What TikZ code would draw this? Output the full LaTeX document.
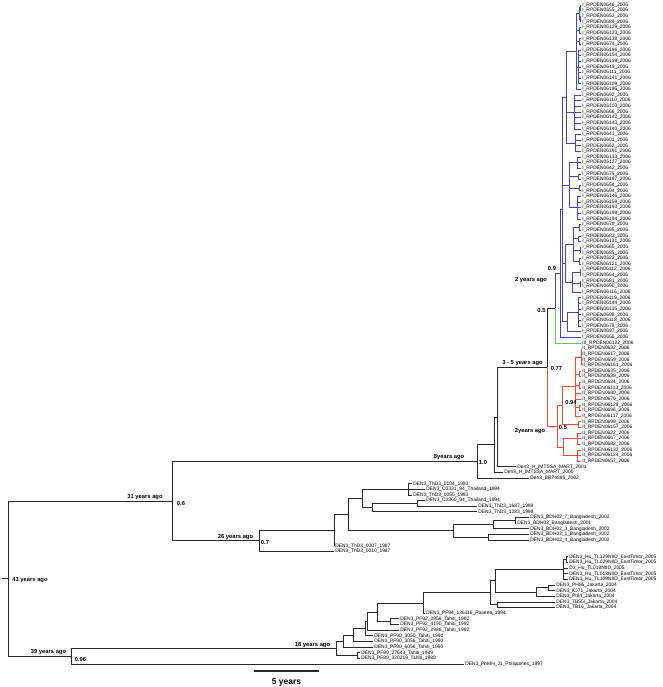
\documentclass[tikz,border=0pt]{standalone}
\usepackage{fontspec}
\setmainfont{Liberation Sans}
\usetikzlibrary{calc}
\definecolor{tg}{RGB}{40,40,40}
\definecolor{tb}{RGB}{70,70,175}
\definecolor{tr}{RGB}{232,75,55}
\definecolor{tgn}{RGB}{110,190,100}
\newcommand\rp[2]{#1\_RPDEN#2\_2006}
\newcommand\lf[3]{%
  \coordinate (L#1) at ({581-13*(2006-#2)}, {5+5.6325*(#1-1)});
  \node[lab] (T#1) at (L#1) {#3};}
\newcommand\mkn[4]{%
  \path ($(#3)!0.5!(#4)$) coordinate (tmpm) (#2,0) coordinate (tmpx);
  \coordinate (#1) at (tmpx |- tmpm);}
\newcommand\kids[3]{\foreach \ch in {#3}{\draw[#2] (#1) |- (\ch);}}
\newcommand\nd[6]{\mkn{#1}{#2}{#3}{#4}\kids{#1}{#5}{#6}}
\begin{document}
\begin{tikzpicture}[x=1pt,y=-1pt,
  br/.style={draw=tg, line width=1pt},
  bl/.style={draw=tb, line width=0.8pt},
  rd/.style={draw=tr, line width=0.8pt},
  gr/.style={draw=tgn, line width=0.8pt},
  lab/.style={anchor=west, inner sep=1.2pt, font=\fontsize{4.9}{5}\selectfont},
  age/.style={inner sep=0pt, font=\bfseries\fontsize{5.8}{6}\selectfont}]
\useasboundingbox (0,0) rectangle (662,687);
% ---- leaves
\lf{1}{2006}{\rp{I}{0646}}
\lf{2}{2006}{\rp{I}{0655}}
\lf{3}{2006}{\rp{I}{0652}}
\lf{4}{2006}{\rp{I}{0689}}
\lf{5}{2006}{\rp{I}{06129}}
\lf{6}{2006}{\rp{I}{06123}}
\lf{7}{2006}{\rp{I}{06138}}
\lf{8}{2006}{\rp{I}{0674}}
\lf{9}{2006}{\rp{I}{06196}}
\lf{10}{2006}{\rp{I}{06104}}
\lf{11}{2006}{\rp{I}{06139}}
\lf{12}{2006}{\rp{I}{0649}}
\lf{13}{2006}{\rp{I}{06111}}
\lf{14}{2006}{\rp{I}{06141}}
\lf{15}{2006}{\rp{I}{06109}}
\lf{16}{2006}{\rp{I}{06195}}
\lf{17}{2006}{\rp{I}{0692}}
\lf{18}{2006}{\rp{I}{06110}}
\lf{19}{2006}{\rp{I}{06103}}
\lf{20}{2006}{\rp{I}{0666}}
\lf{21}{2006}{\rp{I}{06142}}
\lf{22}{2006}{\rp{I}{06143}}
\lf{23}{2006}{\rp{I}{06140}}
\lf{24}{2006}{\rp{I}{0641}}
\lf{25}{2006}{\rp{I}{0601}}
\lf{26}{2006}{\rp{I}{0662}}
\lf{27}{2006}{\rp{I}{06191}}
\lf{28}{2006}{\rp{I}{06133}}
\lf{29}{2006}{\rp{I}{06127}}
\lf{30}{2006}{\rp{I}{0642}}
\lf{31}{2006}{\rp{I}{0675}}
\lf{32}{2006}{\rp{I}{06197}}
\lf{33}{2006}{\rp{I}{0654}}
\lf{34}{2006}{\rp{I}{0694}}
\lf{35}{2006}{\rp{I}{06146}}
\lf{36}{2006}{\rp{I}{06159}}
\lf{37}{2006}{\rp{I}{06193}}
\lf{38}{2006}{\rp{I}{06198}}
\lf{39}{2006}{\rp{I}{06194}}
\lf{40}{2006}{\rp{I}{0679}}
\lf{41}{2006}{\rp{I}{0695}}
\lf{42}{2006}{\rp{I}{0683}}
\lf{43}{2006}{\rp{I}{06131}}
\lf{44}{2006}{\rp{I}{0665}}
\lf{45}{2006}{\rp{I}{0685}}
\lf{46}{2006}{\rp{I}{0623}}
\lf{47}{2006}{\rp{I}{06121}}
\lf{48}{2006}{\rp{I}{06112}}
\lf{49}{2006}{\rp{I}{0664}}
\lf{50}{2006}{\rp{I}{0681}}
\lf{51}{2006}{\rp{I}{0690}}
\lf{52}{2006}{\rp{I}{06116}}
\lf{53}{2006}{\rp{I}{06119}}
\lf{54}{2006}{\rp{I}{06144}}
\lf{55}{2006}{\rp{I}{06135}}
\lf{56}{2006}{\rp{I}{0698}}
\lf{57}{2006}{\rp{I}{06118}}
\lf{58}{2006}{\rp{I}{0678}}
\lf{59}{2006}{\rp{I}{0697}}
\lf{60}{2006}{\rp{I}{0656}}
\lf{61}{2006}{\rp{III}{06122}}
\lf{62}{2006}{\rp{II}{0632}}
\lf{63}{2006}{\rp{II}{0617}}
\lf{64}{2006}{\rp{II}{0659}}
\lf{65}{2006}{\rp{II}{06161}}
\lf{66}{2006}{\rp{II}{0635}}
\lf{67}{2006}{\rp{II}{0639}}
\lf{68}{2006}{\rp{II}{0634}}
\lf{69}{2006}{\rp{II}{06113}}
\lf{70}{2006}{\rp{II}{0680}}
\lf{71}{2006}{\rp{II}{0670}}
\lf{72}{2006}{\rp{II}{06128}}
\lf{73}{2006}{\rp{II}{0696}}
\lf{74}{2006}{\rp{II}{06117}}
\lf{75}{2006}{\rp{II}{0699}}
\lf{76}{2006}{\rp{II}{06157}}
\lf{77}{2006}{\rp{II}{0622}}
\lf{78}{2006}{\rp{II}{0667}}
\lf{79}{2006}{\rp{II}{0682}}
\lf{80}{2006}{\rp{II}{06132}}
\lf{81}{2006}{\rp{II}{06124}}
\lf{82}{2006}{\rp{II}{0657}}
\lf{83}{2001}{Den3\_H\_IMTSSA\_MART\_2001}
\lf{84}{2000}{Den3\_H\_IMTSSA\_MART\_2000}
\lf{85}{2002}{Den3\_BR74886\_2002}
\lf{86}{1993}{DEN3\_ThD3\_0104\_1993}
\lf{87}{1994}{DEN3\_C0331\_94\_Thailand\_1994}
\lf{88}{1993}{DEN3\_ThD3\_0055\_1993}
\lf{89}{1994}{DEN3\_C0360\_94\_Thailand\_1994}
\lf{90}{1998}{DEN3\_ThD3\_1687\_1998}
\lf{91}{1998}{DEN3\_ThD3\_1283\_1998}
\lf{92}{2002}{DEN3\_BDH02\_7\_Bangladesh\_2002}
\lf{93}{2001}{DEN3\_BDH02\_Bangladesh\_2001}
\lf{94}{2002}{DEN3\_BDH02\_3\_Bangladesh\_2002}
\lf{95}{2002}{DEN3\_BDH02\_1\_Bangladesh\_2002}
\lf{96}{2002}{DEN3\_BDH02\_4\_Bangladesh\_2002}
\lf{97}{1987}{DEN3\_ThD3\_0007\_1987}
\lf{98}{1987}{DEN3\_ThD3\_0010\_1987}
\lf{99}{2005}{DEN3\_Hu\_TL129NIID\_EastTimor\_2005}
\lf{100}{2005}{DEN3\_Hu\_TL029NIID\_EastTimor\_2005}
\lf{101}{2005}{D3\_Hu\_TL018NIID\_2005}
\lf{102}{2005}{DEN3\_Hu\_TL018NIID\_EastTimor\_2005}
\lf{103}{2005}{DEN3\_Hu\_TL109NIID\_EastTimor\_2005}
\lf{104}{2004}{DEN3\_PH86\_Jakarta\_2004}
\lf{105}{2004}{DEN3\_KJ71\_Jakarta\_2004}
\lf{106}{2004}{DEN3\_PI64\_Jakarta\_2004}
\lf{107}{2004}{DEN3\_TB55i\_Jakarta\_2004}
\lf{108}{2004}{DEN3\_TB16\_Jakarta\_2004}
\lf{109}{1994}{DEN3\_PF94\_136116\_Raiatea\_1994}
\lf{110}{1992}{DEN3\_PF92\_2956\_Tahiti\_1992}
\lf{111}{1992}{DEN3\_PF92\_4190\_Tahiti\_1992}
\lf{112}{1992}{DEN3\_PF92\_2986\_Tahiti\_1992}
\lf{113}{1990}{DEN3\_PF90\_3050\_Tahiti\_1990}
\lf{114}{1990}{DEN3\_PF90\_3056\_Tahiti\_1990}
\lf{115}{1990}{DEN3\_PF90\_6056\_Tahiti\_1990}
\lf{116}{1989}{DEN3\_PF89\_27643\_Tahiti\_1989}
\lf{117}{1989}{DEN3\_PF89\_320219\_Tahiti\_1989}
\lf{118}{1997}{DEN3\_PhMH\_J1\_Philippines\_1997}
% ---- blue clade
\nd{b1a}{580}{L1}{L2}{bl}{L1,L2}
\nd{b1b}{580}{L3}{L4}{bl}{L3,L4}
\nd{b14}{579}{b1a}{b1b}{bl}{b1a,b1b}
\nd{b56}{579}{L5}{L6}{bl}{L5,L6}
\nd{b78}{579}{L7}{L8}{bl}{L7,L8}
\nd{b915}{578}{L9}{L15}{bl}{L9,L10,L11,L12,L13,L14,L15}
\nd{bA1}{576}{b14}{L16}{bl}{b14,b56,b78,b915,L16}
\nd{bA2}{574}{L17}{L23}{bl}{L17,L18,L19,L20,L21,L22,L23}
\nd{bA3}{575}{L24}{L27}{bl}{L24,L25,L26,L27}
\nd{bA}{566}{bA1}{bA3}{bl}{bA1,bA2,bA3}
\nd{bB1}{577}{L28}{L30}{bl}{L28,L29,L30}
\nd{bB2}{578}{L31}{L32}{bl}{L31,L32}
\nd{bB3}{579}{L33}{L34}{bl}{L33,L34}
\nd{bB4}{577}{L35}{L39}{bl}{L35,L36,L37,L38,L39}
\nd{bB}{569}{bB1}{bB4}{bl}{bB1,bB2,bB3,bB4}
\nd{bC1}{579}{L40}{L41}{bl}{L40,L41}
\nd{bC2}{578}{L42}{L43}{bl}{L42,L43}
\nd{bC3}{580}{L44}{L45}{bl}{L44,L45}
\nd{bC4}{579}{L46}{L47}{bl}{L46,L47}
\nd{bC}{573}{bC1}{bC4}{bl}{bC1,bC2,bC3,bC4}
\nd{bD1}{580}{L48}{L49}{bl}{L48,L49}
\nd{bD2}{580}{L50}{L51}{bl}{L50,L51}
\nd{bD}{572}{bD1}{L52}{bl}{bD1,bD2,L52}
\nd{bCD}{565}{bC}{bD}{bl}{bC,bD}
\nd{bE1}{578}{L53}{L58}{bl}{L53,L54,L55,L56,L57,L58}
\nd{bE}{567}{bE1}{L59}{bl}{bE1,L59}
\nd{bW}{562}{bA}{bE}{bl}{bA,bB,bCD,bE}
\nd{nblue}{560}{bW}{L60}{bl}{bW,L60}
\mkn{p05}{555}{nblue}{L61}
\kids{p05}{bl}{nblue}
\kids{p05}{gr}{L61}
% ---- red clade
\nd{r14}{581}{L62}{L65}{rd}{L62,L63,L64,L65}
\nd{r56}{579}{L66}{L67}{rd}{L66,L67}
\nd{r78}{579}{L68}{L69}{rd}{L68,L69}
\nd{r23}{579}{L72}{L73}{rd}{L72,L73}
\nd{rUa}{575}{r14}{L74}{rd}{r14,r56,r78,L70,L71,r23,L74}
\nd{rUb}{578}{L75}{L76}{rd}{L75,L76}
\nd{rU}{562}{rUa}{rUb}{rd}{rUa,rUb}
\nd{rL1}{577}{L77}{L79}{rd}{L77,L78,L79}
\nd{rL2}{577}{L80}{L82}{rd}{L80,L81,L82}
\nd{rL}{563}{rL1}{rL2}{rd}{rL1,rL2}
\nd{nred}{557}{rU}{rL}{rd}{rU,rL}
% ---- upper backbone
\mkn{n077}{547}{p05}{nred}
\kids{n077}{br}{p05}
\kids{n077}{rd}{nred}
\nd{n497}{497}{n077}{L83}{br}{n077,L83}
\nd{n494}{494}{n497}{L84}{br}{n497,L84}
\nd{n8}{477}{n494}{L85}{br}{n494,L85}
% ---- Thailand / Bangladesh
\nd{tt}{408}{L86}{L88}{br}{L86,L87,L88}
\nd{tb1}{417}{L89}{L90}{br}{L89,L90}
\nd{tbot}{372}{tb1}{L91}{br}{tb1,L91}
\nd{thai}{362}{tt}{tbot}{br}{tt,tbot}
\nd{bg11}{515}{L92}{L93}{br}{L92,L93}
\nd{bg1}{493}{bg11}{L94}{br}{bg11,L94}
\nd{bg2}{488}{L95}{L96}{br}{L95,L96}
\nd{bang}{453}{bg1}{bg2}{br}{bg1,bg2}
\nd{tbn}{348}{thai}{bang}{br}{thai,bang}
\nd{n333}{334}{tbn}{L97}{br}{tbn,L97}
\nd{n26}{259}{n333}{L98}{br}{n333,L98}
\nd{n31}{172}{n8}{n26}{br}{n8,n26}
% ---- Pacific
\nd{eta}{566}{L99}{L100}{br}{L99,L100}
\nd{et}{563}{eta}{L103}{br}{eta,L101,L102,L103}
\nd{j11}{548}{L104}{L105}{br}{L104,L105}
\nd{j1}{536}{j11}{L106}{br}{j11,L106}
\nd{j2}{497}{L107}{L108}{br}{L107,L108}
\nd{ej}{495}{et}{j1}{br}{et,j1}
\nd{ejj}{490}{ej}{j2}{br}{ej,j2}
\nd{rai}{423}{ejj}{L109}{br}{ejj,L109}
\nd{p92}{390}{L110}{L111}{br}{L110,L111}
\nd{m4}{377}{rai}{p92}{br}{rai,p92}
\nd{m3b}{367}{m4}{L112}{br}{m4,L112}
\nd{m3}{365}{m3b}{L113}{br}{m3b,L113}
\nd{m2}{353}{m3}{L114}{br}{m3,L114}
\nd{m1}{343}{m2}{L115}{br}{m2,L115}
\nd{p89}{357}{L116}{L117}{br}{L116,L117}
\nd{n18}{336}{m1}{p89}{br}{m1,p89}
\nd{b39}{71}{n18}{L118}{br}{n18,L118}
\nd{root}{8}{n31}{b39}{br}{n31,b39}
\path (root) ++(-6,0) coordinate (rstub);
\draw[br] (rstub) -- (root);
% ---- node labels
\node[age] (a43) at (30,580) {43 years ago};
\node[age] (a31) at (145,497) {31 years ago};
\node[age] (s06) at (181,503) {0.6};
\node[age] (a26) at (235.5,537) {26 years ago};
\node[age] (s07) at (265,542.5) {0.7};
\node[age] (a39) at (48.5,652.5) {39 years ago};
\node[age] (s096) at (80.5,659) {0.96};
\node[age] (a18) at (312.5,645) {18 years ago};
\node[age] (a8) at (449,457) {8years ago};
\node[age] (s10) at (483,462) {1.0};
\node[age] (a35) at (522.5,363) {3 - 5 years ago};
\node[age] (s077) at (556.5,368.5) {0.77};
\node[age] (s05a) at (541.5,311) {0.5};
\node[age] (a2a) at (531,280) {2 years ago};
\node[age] (s09) at (552,269) {0.9};
\node[age] (a2b) at (530,431) {2years ago};
\node[age] (s05b) at (563,427) {0.5};
\node[age] (s094) at (571,402) {0.94};
% ---- scale bar
\coordinate (sb1) at (254,671);
\coordinate (sb2) at (319,671);
\draw[line width=2pt, tg] (sb1) -- (sb2);
\node[font=\bfseries\fontsize{8.5}{9}\selectfont, inner sep=0pt] (sbl) at (286.5,682) {5 years};
\end{tikzpicture}
\end{document}
